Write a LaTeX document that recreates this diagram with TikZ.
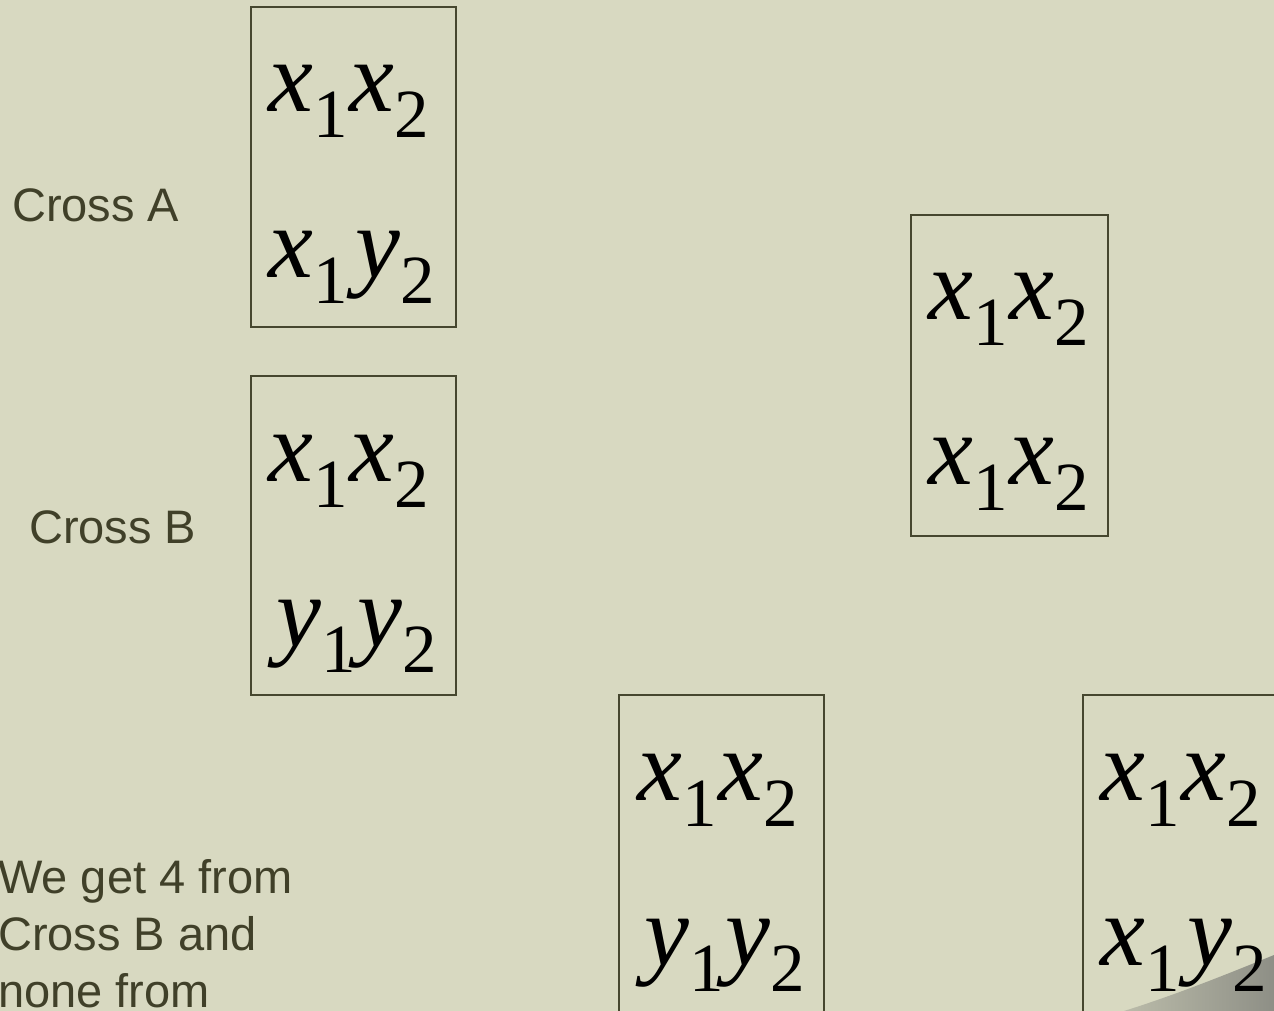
\documentclass[tikz,border=0pt]{standalone}
\usepackage{fontspec}
\setmainfont{Liberation Serif}
\newfontfamily\labelfont{Liberation Sans}
\definecolor{bg}{HTML}{D8D9C1}
\definecolor{ink}{HTML}{404029}
\definecolor{frame}{HTML}{46472F}
\definecolor{curl}{HTML}{8E8F86}
% italic variable with a lowered upright index
\newcommand{\gv}[2]{{\fontsize{101}{101}\selectfont\itshape #1}\raisebox{-26pt}{\fontsize{69}{69}\selectfont #2}\kern2pt}
\tikzset{
  pairbox/.style={draw=frame, line width=2.2pt, anchor=north west, inner sep=0pt},
  pair/.style={anchor=base west, inner sep=0pt, text=black},
  lbl/.style={anchor=base west, inner sep=0pt, text=ink, font=\labelfont\fontsize{47}{47}\selectfont},
}
\begin{document}
\begin{tikzpicture}[x=1pt,y=-1pt]
\fill[bg] (0,0) rectangle (1274,1011);
\useasboundingbox (0,0) rectangle (1274,1011);
\clip (0,0) rectangle (1274,1011);

% turned page corner, under the text
\shade[left color=bg!60!curl, right color=curl]
  (1274,955) .. controls (1225,975) and (1175,995) .. (1124,1011) -- (1274,1011) -- cycle;

% left column: the two crosses
\node[pairbox, minimum width=205pt, minimum height=320pt] (boxA) at (250,6) {};
\node[pair] (a1) at (268,112) {\gv{x}{1}\gv{x}{2}};
\node[pair] (a2) at (268,277) {\gv{x}{1}\hspace{6pt}\gv{y}{2}};
\node[lbl] (crossA) at (12,222) {Cross A};

\node[pairbox, minimum width=205pt, minimum height=319pt] (boxB) at (250,375) {};
\node[pair] (b1) at (268,481) {\gv{x}{1}\gv{x}{2}};
\node[pair] (b2) at (276,646) {\gv{y}{1}\gv{y}{2}};
\node[lbl] (crossB) at (29,543) {Cross B};

% right column: offspring genotypes
\node[pairbox, minimum width=197pt, minimum height=321pt] (boxR) at (910,214) {};
\node[pair] (r1) at (928,319) {\gv{x}{1}\gv{x}{2}};
\node[pair] (r2) at (928,484) {\gv{x}{1}\gv{x}{2}};

\node[pairbox, minimum width=205pt, minimum height=360pt] (boxM) at (618,694) {};
\node[pair] (m1) at (637,800) {\gv{x}{1}\gv{x}{2}};
\node[pair] (m2) at (644,965) {\gv{y}{1}\gv{y}{2}};

\node[pairbox, minimum width=260pt, minimum height=360pt] (boxN) at (1082,694) {};
\node[pair] (n1) at (1100,800) {\gv{x}{1}\gv{x}{2}};
\node[pair] (n2) at (1100,965) {\gv{x}{1}\hspace{6pt}\gv{y}{2}};

% note at the lower left
\node[lbl] (note1) at (-2,893) {We get 4 from};
\node[lbl] (note2) at (-2,950) {Cross B and};
\node[lbl] (note3) at (-2,1007) {none from};
\end{tikzpicture}
\end{document}
